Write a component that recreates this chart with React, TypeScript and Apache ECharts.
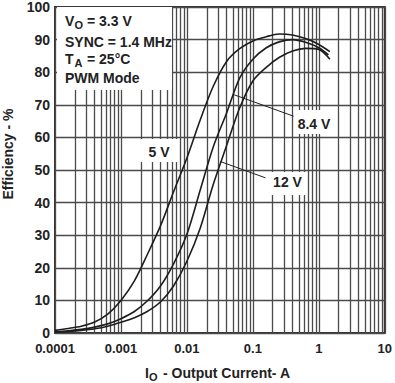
import React, { useEffect, useRef } from 'react';
import * as echarts from 'echarts';

const xTickLabels = ['0.0001', '0.001', '0.01', '0.1', '1', '10'];

const current5V = [0.0001, 0.00016, 0.00025, 0.0004, 0.00063, 0.001, 0.0016, 0.0025, 0.004, 0.0063, 0.01, 0.016, 0.025, 0.04, 0.063, 0.1, 0.16, 0.25, 0.4, 0.63, 1.0, 1.47];
const efficiency5V = [0.8, 1.4, 2.1, 3.4, 5.8, 10, 16, 24, 33, 43.4, 53.7, 65.5, 75.6, 83.3, 87.2, 89.6, 90.9, 91.7, 91.4, 90.3, 88.5, 86.3];

const current8V4 = [0.0001, 0.00016, 0.00025, 0.0004, 0.00063, 0.001, 0.0016, 0.0025, 0.004, 0.0063, 0.01, 0.016, 0.025, 0.04, 0.063, 0.1, 0.16, 0.25, 0.4, 0.63, 1.0, 1.4];
const efficiency8V4 = [0.4, 0.7, 1.1, 1.8, 2.8, 4.4, 6.6, 9.8, 14.5, 21.3, 30.3, 44, 57, 67.5, 78.2, 84, 87.5, 89.3, 90, 89.2, 87.5, 85.3];

const current12V = [0.0001, 0.00016, 0.00025, 0.0004, 0.00063, 0.001, 0.0016, 0.0025, 0.004, 0.0063, 0.01, 0.016, 0.025, 0.04, 0.063, 0.1, 0.16, 0.25, 0.4, 0.63, 1.0, 1.47];
const efficiency12V = [0.3, 0.5, 0.8, 1.3, 2.1, 3.3, 4.7, 6.6, 9.6, 14.5, 22, 32.3, 45.5, 57.5, 69, 77.3, 81.5, 84.5, 86.5, 87.3, 87, 84];

const decades = [0.0001, 0.001, 0.01, 0.1, 1];
const multiples = [2, 3, 4, 5, 6, 7, 8, 9];

const arrow8V4From = [0.415, 66.5];
const arrow8V4To = [0.05, 73.2];
const arrow12VFrom = [0.155, 47.6];
const arrow12VTo = [0.0321, 52.6];

const FONT = '"Liberation Sans", Arial, Helvetica, sans-serif';
const INK = '#222';
const GRID = '#4a4a4a';

const zip = (xs: number[], ys: number[]) => xs.map((x, i) => [x, ys[i]]);

export default function App() {
  const ref = useRef<HTMLDivElement>(null);
  useEffect(() => {
    document.body.style.margin = '0';
    if (!ref.current) return;
    const chart = echarts.init(ref.current, null, { renderer: 'svg' });
    const minorLines: number[] = [];
    decades.forEach((d) => multiples.forEach((m) => minorLines.push(m * d)));

    const txt = (text: string, x: number, y: number, size = 14, align = 'left', extra: any = {}) => ({
      type: 'text',
      x,
      y,
      z: 20,
      style: {
        text,
        fill: INK,
        font: `bold ${size}px ${FONT}`,
        align,
        verticalAlign: 'middle',
      },
      ...extra,
    });
    const box = (x: number, y: number, w: number, h: number) => ({
      type: 'rect',
      z: 15,
      shape: { x, y, width: w, height: h },
      style: { fill: '#fff' },
    });

    const lineBase = {
      type: 'line',
      symbol: 'none',
      showSymbol: false,
      smooth: 0.3,
      z: 5,
      lineStyle: { color: '#1e1e1e', width: 1.6 },
      emphasis: { disabled: true },
    };

    chart.setOption({
      animation: false,
      grid: {
        left: 55,
        right: 6,
        top: 5,
        bottom: 50,
        show: true,
        borderColor: '#333',
        borderWidth: 2,
        backgroundColor: 'transparent',
      },
      xAxis: {
        type: 'log',
        logBase: 10,
        min: 0.0001,
        max: 10,
        axisLine: { show: false },
        axisTick: { show: false },
        splitLine: { show: true, lineStyle: { color: GRID, width: 1.3 } },
        axisLabel: {
          margin: 9,
          color: INK,
          fontFamily: FONT,
          fontWeight: 'bold',
          fontSize: 13,
          formatter: (v: number) => xTickLabels[Math.round(Math.log10(v)) + 4] ?? '',
        },
      },
      yAxis: {
        type: 'value',
        min: 0,
        max: 100,
        interval: 10,
        axisLine: { show: false },
        axisTick: { show: false },
        splitLine: { show: true, lineStyle: { color: GRID, width: 1.3 } },
        axisLabel: {
          margin: 5,
          color: INK,
          fontFamily: FONT,
          fontWeight: 'bold',
          fontSize: 14,
        },
      },
      series: [
        {
          ...lineBase,
          name: '5 V',
          data: zip(current5V, efficiency5V),
          markLine: {
            silent: true,
            precision: 8,
            symbol: ['none', 'none'],
            label: { show: false },
            lineStyle: { color: GRID, width: 1.3, type: 'solid' },
            emphasis: { disabled: true },
            data: minorLines.map((v) => ({ xAxis: v })),
          },
        },
        {
          ...lineBase,
          name: '8.4 V',
          data: zip(current8V4, efficiency8V4),
          markLine: {
            silent: true,
            precision: 8,
            symbol: ['none', 'triangle'],
            symbolSize: [0, 8],
            label: { show: false },
            lineStyle: { color: INK, width: 1, type: 'solid' },
            itemStyle: { color: INK },
            emphasis: { disabled: true },
            data: [
              [{ coord: arrow8V4From }, { coord: arrow8V4To }],
              [{ coord: arrow12VFrom }, { coord: arrow12VTo }],
            ],
          },
        },
        {
          ...lineBase,
          name: '12 V',
          data: zip(current12V, efficiency12V),
        },
      ],
      graphic: [
        box(57, 7, 115, 83),
        box(140, 139, 38, 23),
        box(296, 110, 38, 24),
        box(268, 172, 38, 23),
        txt('V', 65, 20.5),
        txt('O', 74.5, 25, 11),
        txt('= 3.3 V', 87, 20.5),
        txt('SYNC = 1.4 MHz', 65, 41.5),
        txt('T', 65, 58.7),
        txt('A', 74.5, 63, 11),
        txt('= 25°C', 87, 58.7),
        txt('PWM Mode', 65, 78.3),
        txt('5 V', 159, 152, 14, 'center'),
        txt('8.4 V', 314, 123.5, 14, 'center'),
        txt('12 V', 287.5, 182, 14, 'center'),
        txt('I', 145, 373),
        txt('O', 149, 377, 11),
        txt('- Output Current- A', 163, 373),
        txt('Efficiency - %', 8, 154, 14, 'center', { rotation: Math.PI / 2 }),
      ],
    });
    return () => chart.dispose();
  }, []);
  return <div ref={ref} style={{ width: 395, height: 383 }} />;
}
